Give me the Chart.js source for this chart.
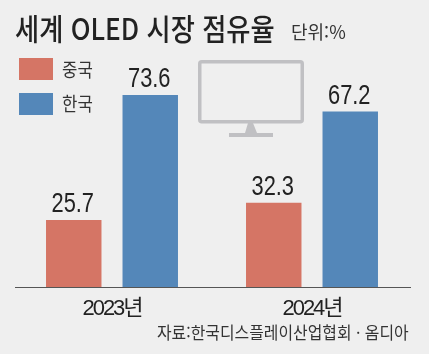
<!DOCTYPE html>
<html lang="ko">
<head>
<meta charset="utf-8">
<title>세계 OLED 시장 점유율</title>
<script src="https://cdn.jsdelivr.net/npm/chart.js@4"></script>
<style>
    html, body { margin: 0; padding: 0; background: #efefef; }
    #wrap { position: relative; width: 429px; height: 354px; overflow: hidden; font-family: "Noto Sans CJK KR", sans-serif; color: #222; }
    #wrap canvas { position: absolute; left: 0; top: 0; }
    .txt { position: absolute; white-space: nowrap; line-height: 1; transform-origin: left top; }
    .swatch { position: absolute; left: 19px; width: 34px; height: 22px; }
    #monitor { position: absolute; left: 0; top: 0; }
</style>
</head>
<body>
<div id="wrap">
    <canvas id="shareChart" width="429" height="354"></canvas>
    <svg id="monitor" width="429" height="354">
        <rect x="199.75" y="61.75" width="102.5" height="60" rx="2" fill="none" stroke="#c0c0c3" stroke-width="3.5"/>
        <path d="M248 123 L253 123 L257 133 L273 133 L273 137 L229 137 L229 133 L245 133 Z" fill="#c0c0c3"/>
    </svg>
    <div class="txt" id="title" style="left:15px;top:12px;font-size:30px;font-weight:500;transform:scaleX(.875)">세계 OLED 시장 점유율</div>
    <div class="txt" id="unit" style="left:291px;top:22px;font-size:18px;color:#333">단위:%</div>
    <div class="swatch" id="swatchChina" style="top:58px"></div>
    <div class="swatch" id="swatchKorea" style="top:93px"></div>
    <div class="txt" id="labelChina" style="left:62px;top:59px;font-size:19px;color:#333;transform:scaleX(.88)"></div>
    <div class="txt" id="labelKorea" style="left:62px;top:93px;font-size:19px;color:#333;transform:scaleX(.88)"></div>
    <div class="txt" id="source" style="left:157px;top:323px;font-size:17px;color:#333;transform:scaleX(.935)">자료:한국디스플레이산업협회 · 옴디아</div>
</div>
<script>
const years = ['2023년', '2024년'];
const seriesNames = ['중국', '한국'];
const chinaShare = [25.7, 32.3];
const koreaShare = [73.6, 67.2];
const chinaColor = '#d57565';
const koreaColor = '#5487b9';

//Legend swatches and names sit in the page, so they follow the series above.
document.getElementById('swatchChina').style.background = chinaColor;
document.getElementById('swatchKorea').style.background = koreaColor;
document.getElementById('labelChina').textContent = seriesNames[0];
document.getElementById('labelKorea').textContent = seriesNames[1];

//Prints the value above each bar, squeezed sideways like the original type.
const valueLabels = {
    id: 'valueLabels',
    afterDatasetsDraw(chart) {
        const ctx = chart.ctx;
        ctx.save();
        ctx.font = '28px "Liberation Sans"';
        ctx.letterSpacing = '0px';
        ctx.fillStyle = '#222';
        ctx.textAlign = 'center';
        ctx.textBaseline = 'alphabetic';
        chart.data.datasets.forEach(function (dataset, datasetIndex) {
            chart.getDatasetMeta(datasetIndex).data.forEach(function (bar, i) {
                ctx.save();
                ctx.translate(bar.x - 1, bar.y - 8);
                ctx.scale(0.78, 1);
                ctx.fillText(dataset.data[i].toFixed(1), 0, 0);
                ctx.restore();
            });
        });
        ctx.restore();
    }
};

//The baseline is a little shorter than the category band.
const baseLine = {
    id: 'baseLine',
    afterDatasetsDraw(chart) {
        const ctx = chart.ctx;
        const y = chart.chartArea.bottom + 0.5;
        ctx.save();
        ctx.strokeStyle = '#555';
        ctx.lineWidth = 1;
        ctx.beginPath();
        ctx.moveTo(15, y);
        ctx.lineTo(411, y);
        ctx.stroke();
        ctx.restore();
    }
};

//Tightens the year labels, they are set narrow in the original.
const narrowTicks = {
    id: 'narrowTicks',
    beforeDraw(chart) {
        chart.ctx.letterSpacing = '-2px';
    }
};

new Chart(document.getElementById('shareChart'), {
    type: 'bar',
    data: {
        labels: years,
        datasets: [
            { label: seriesNames[0], data: chinaShare, backgroundColor: chinaColor },
            { label: seriesNames[1], data: koreaShare, backgroundColor: koreaColor }
        ]
    },
    options: {
        responsive: false,
        animation: false,
        layout: { padding: { left: 12, right: 17, top: 26, bottom: 0 } },
        categoryPercentage: 0.765,
        barPercentage: 0.725,
        scales: {
            y: { display: false, min: 0, max: 100 },
            x: {
                grid: { display: false },
                border: { display: false },
                afterFit: function (scale) { scale.height = 67; },
                ticks: {
                    color: '#222',
                    padding: 1,
                    maxRotation: 0,
                    font: { family: '"Liberation Sans", "Noto Sans CJK KR"', size: 22 }
                }
            }
        },
        plugins: {
            legend: { display: false },
            tooltip: { enabled: false }
        }
    },
    plugins: [narrowTicks, valueLabels, baseLine]
});
</script>
</body>
</html>
